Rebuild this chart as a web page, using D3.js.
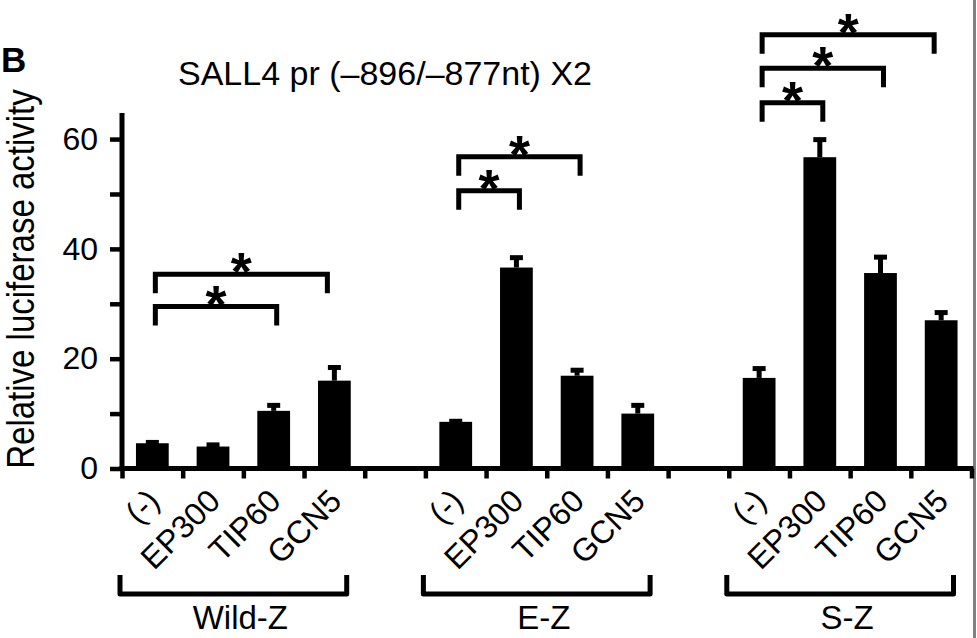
<!DOCTYPE html>
<html>
<head>
<meta charset="utf-8">
<script src="https://cdn.jsdelivr.net/npm/d3@7/dist/d3.min.js"></script>
<style>
  html, body { margin: 0; padding: 0; background: #fff; }
  svg { display: block; }
  text { font-family: "Liberation Sans", Arial, Helvetica, sans-serif; fill: #000; }
</style>
</head>
<body>
<svg id="chart" width="977" height="638"></svg>
<script>
// ---- data ----
const panelLabel = "B";
const title = "SALL4 pr (\u2013896/\u2013877nt) X2";
const yLabel = "Relative luciferase activity";
const groups = ["Wild-Z", "E-Z", "S-Z"];
const treatments = ["(-)", "EP300", "TIP60", "GCN5"];
const wildValues = [4.6, 4.0, 10.5, 16.0];
const wildErrors = [0.15, 0.3, 1.0, 2.4];
const eValues = [8.5, 36.6, 16.9, 10.0];
const eErrors = [0.1, 1.8, 1.0, 1.5];
const sValues = [16.5, 56.7, 35.6, 27.0];
const sErrors = [1.7, 3.2, 2.9, 1.4];
const yTickValues = [0, 10, 20, 30, 40, 50, 60];
const yTickLabels = ["0", "", "20", "", "40", "", "60"];
// significance brackets: group index, from treatment, to treatment, level (y units)
const sigGroup = [0, 0, 1, 1, 2, 2, 2];
const sigFrom  = [0, 0, 0, 0, 0, 0, 0];
const sigTo    = [3, 2, 2, 1, 3, 2, 1];
const sigLevel = [35.4, 29.5, 56.8, 50.6, 79.0, 72.9, 66.6];
const sigMark = "*";

// ---- layout ----
const svg = d3.select("#chart");
const nSlots = groups.length * (treatments.length + 1) - 1; // 14
const xLeft = 122, xRight = 971.5;
const slotIndex = (g, i) => g * (treatments.length + 1) + i;
const x = d3.scaleBand().domain(d3.range(nSlots)).range([xLeft, xRight]).paddingInner(0).paddingOuter(0);
const xEdge = d3.scaleLinear().domain([0, nSlots]).range([xLeft, xRight]);
const y = d3.scaleLinear().domain([0, 64.75]).range([468.5, 113]);

const seriesValues = [wildValues, eValues, sValues];
const seriesErrors = [wildErrors, eErrors, sErrors];
const bars = [];
groups.forEach((g, gi) => treatments.forEach((t, ti) => {
  bars.push({ g: gi, t: ti, label: t, v: seriesValues[gi][ti], e: seriesErrors[gi][ti] });
}));

const barW = x.bandwidth() * 0.54;
const cx = d => x(slotIndex(d.g, d.t)) + x.bandwidth() / 2;

// right image border
svg.append("rect").attr("x", 973).attr("y", 0).attr("width", 3).attr("height", 638).attr("fill", "#808080");

// panel label & title
svg.append("text").attr("x", 1).attr("y", 72).attr("font-size", 35).attr("font-weight", "bold").text(panelLabel);
svg.append("text").attr("x", 385).attr("y", 85).attr("font-size", 34).attr("text-anchor", "middle").text(title);

// y label
svg.append("text")
  .attr("transform", "translate(34,279) rotate(-90) scale(1,1.15)")
  .attr("text-anchor", "middle").attr("font-size", 33).text(yLabel);

// bars
svg.append("g").selectAll("rect").data(bars).join("rect")
  .attr("x", d => cx(d) - barW / 2)
  .attr("y", d => y(d.v))
  .attr("width", barW)
  .attr("height", d => y(0) - y(d.v))
  .attr("fill", "#000");

// error bars
const eg = svg.append("g").attr("stroke", "#000").attr("stroke-width", 5);
eg.selectAll("line.stem").data(bars).join("line").attr("class", "stem")
  .attr("x1", cx).attr("x2", cx)
  .attr("y1", d => y(d.v)).attr("y2", d => y(d.v + d.e));
eg.selectAll("line.cap").data(bars).join("line").attr("class", "cap")
  .attr("x1", d => cx(d) - 6.5).attr("x2", d => cx(d) + 6.5)
  .attr("y1", d => y(d.v + d.e)).attr("y2", d => y(d.v + d.e));

// y axis
const yAxis = svg.append("g").attr("transform", `translate(${xLeft},0)`)
  .call(d3.axisLeft(y).tickValues(yTickValues).tickSize(12).tickSizeOuter(0).tickPadding(12)
    .tickFormat((d, i) => yTickLabels[i]));
yAxis.select(".domain").attr("stroke", "#000").attr("stroke-width", 5).attr("d", `M0,${y(0) + 2.5}V${y.range()[1]}`);
yAxis.selectAll(".tick line").attr("stroke", "#000").attr("stroke-width", 4.5);
yAxis.selectAll(".tick text").attr("font-size", 32).attr("font-family", "Liberation Sans, Arial, sans-serif").attr("fill", "#000");

// x axis (ticks at slot edges)
const xAxis = svg.append("g").attr("transform", `translate(0,${y(0)})`)
  .call(d3.axisBottom(xEdge).tickValues(d3.range(nSlots + 1)).tickSize(10).tickSizeOuter(0).tickFormat(""));
xAxis.select(".domain").attr("stroke", "#000").attr("stroke-width", 5).attr("d", `M${xLeft - 2.5},0H${xRight + 2}`);
xAxis.selectAll(".tick line").attr("stroke", "#000").attr("stroke-width", 4.5);

// rotated treatment labels
svg.append("g").selectAll("text").data(bars).join("text")
  .attr("transform", d => `translate(${cx(d) + 9},503) rotate(-45)`)
  .attr("text-anchor", "end").attr("font-size", 32)
  .text(d => d.label);

// group brackets and labels
const gb = svg.append("g");
groups.forEach((g, gi) => {
  const x1 = xEdge(slotIndex(gi, 0)) - 2;
  const x2 = xEdge(slotIndex(gi, treatments.length)) - 18;
  gb.append("path").attr("d", `M${x1},575V594H${x2}V575`)
    .attr("fill", "none").attr("stroke", "#000").attr("stroke-width", 5).attr("stroke-linejoin", "round");
  gb.append("text").attr("x", (xEdge(slotIndex(gi, 0)) + xEdge(slotIndex(gi, treatments.length))) / 2 - 3)
    .attr("y", 629).attr("text-anchor", "middle").attr("font-size", 33).text(g);
});

// significance brackets
const sg = svg.append("g");
sigGroup.forEach((gi, k) => {
  const xa = x(slotIndex(gi, sigFrom[k])) + x.bandwidth() / 2 + 3;
  const xb = x(slotIndex(gi, sigTo[k])) + x.bandwidth() / 2 + (sigTo[k] === 3 ? -7 : 3);
  const yl = y(sigLevel[k]);
  sg.append("path").attr("d", `M${xa},${yl + 19}V${yl}H${xb}V${yl + 19}`)
    .attr("fill", "none").attr("stroke", "#000").attr("stroke-width", 5).attr("stroke-linejoin", "miter");
  sg.append("text").attr("x", (xa + xb) / 2).attr("y", yl + 16)
    .attr("text-anchor", "middle").attr("font-size", 54).attr("font-weight", "bold").text(sigMark);
});
</script>
</body>
</html>
